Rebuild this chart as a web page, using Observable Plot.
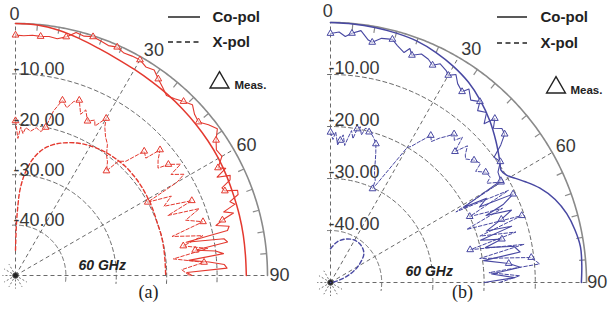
<!DOCTYPE html>
<html><head><meta charset="utf-8">
<script src="https://cdn.jsdelivr.net/npm/d3@7"></script>
<script src="https://cdn.jsdelivr.net/npm/@observablehq/plot@0.6"></script>
<style>
body{margin:0;background:#fff;}
#wrap{display:flex;width:614px;height:316px;}
</style></head><body><div id="wrap"></div>
<script>
// ---------- DATA ----------
const angleTicks = [0, 30, 60, 90];
const radialLevels = [-10, -20, -30, -40];
const radialLabels = ["-10.00", "-20.00", "-30.00", "-40.00"];
const panelTags = ["(a)", "(b)"];
const freqLabel = "60 GHz";
const legendLabels = ["Co-pol", "X-pol", "Meas."];

// Panel (a) – simulated
const coSimAngA = [0,5,10,15,20,25,30,35,40,45,50,55,60,65,70,75,80,85,90];
const coSimA    = [0,-0.1,-0.6,-1.3,-2.0,-2.5,-2.8,-3.0,-3.1,-3.2,-3.3,-3.4,-3.5,-3.7,-3.9,-4.0,-4.1,-4.2,-4.2];
const xSimAngA  = [0,1,2,3,5,8,12,16,20,25,30,35,40,45,50,55,60,65,70,75,80,85,90];
const xSimA     = [-45,-40,-36,-33,-30,-27,-24.5,-23,-22,-21,-20.3,-19.8,-19.5,-19.3,-19.3,-19.4,-19.6,-19.8,-20,-20,-20.1,-20.2,-20.2];
// Panel (a) – measured [angle, dB]
const coMeasA = [[0,-2.3],[2,-2.4],[4,-2.2],[6,-2.3],[8,-2.1],[10,-2.3],[12,-1.6],[14,-0.3],[16,-0.6],[18,-0.2],[20,-0.5],[22,-0.8],[24,-0.4],[26,-0.9],[28,-0.7],[30,-0.6],[32,-1.2],[34,-0.8],[36,-1.8],[38,-2.6],[40,-3.4],[42,-2.8],[44,-2.0],[46,-1.2],[48,-2.2],[50,-2.6],[52,-1.4],[54,-0.5],[56,-2.0],[58,-3.0],[60,-2.7],[62,-4.5],[63,-3.2],[64,-5.5],[65,-3.0],[66,-3.4],[67,-5.5],[68,-5.2],[69,-2.8],[70,-3.0],[71,-5.0],[72,-4.2],[73,-6.8],[74,-5.0],[75,-7.5],[76,-9.0],[77,-6.5],[78,-7.0],[79,-15.5],[80,-8.0],[81,-7.4],[82,-14.0],[83,-10.0],[84,-8.5],[85,-15.5],[86,-11.5],[87,-8.5],[88,-8.0],[89,-16.0],[90,-15.0]];
const coMarkA = [0,6,12,18,24,30,36,44,50,56,62,68,75,82];
const xMeasA = [[0,-19.3],[1,-22.8],[2,-20.5],[3,-21.8],[4,-20.6],[6,-21.2],[8,-20.4],[10,-21],[11.5,-20],[13,-16.5],[15,-14],[17,-15.2],[18.5,-13.6],[20,-13],[22,-15.5],[23,-14.3],[25,-16.2],[27,-15.4],[28,-16.4],[30,-14],[31,-15.6],[33,-17.2],[35,-18.2],[37,-20],[39,-21],[41,-22.5],[42,-19.5],[44,-18.5],[46,-14.5],[48,-15.2],[49,-12],[51,-13.6],[53,-14.6],[54,-12.5],[56,-10.5],[57,-13.2],[59,-11],[60,-13],[61,-20],[63,-15.3],[65,-17.5],[67,-12],[68.5,-17.5],[70,-11.2],[72,-14.5],[74,-11.3],[76,-18],[78,-12],[80,-16.2],[82,-11.5],[84,-18.5],[86,-12.5],[88,-17],[90,-15.5]];
const xMarkA = [0,11.5,15,20,25,30,41,46,49,54,61,67,74,80,86];

// Panel (b) – simulated
const coSimAngB = [0,5,10,15,20,25,30,35,40,45,50,55,57,59,61,63,66,70,74,78,82,86,90];
const coSimB    = [0,-0.1,-0.2,-0.35,-0.6,-1.2,-2.0,-3.0,-4.4,-6.0,-7.8,-9.6,-10.3,-9.9,-8.7,-7.3,-5.3,-3.3,-2.0,-1.2,-0.7,-0.8,-1.0];
const xSimAngB  = [0,10,20,30,40,50,60,65,70,75,80,90];
const xSimB     = [-43.5,-42,-41.1,-40.6,-40.7,-41.5,-43.8,-45.2,-46.8,-48.2,-49.2,-50];
// Panel (b) – measured [angle, dB]
const coMeasB = [[0,-2.1],[2,-1.8],[3.5,-2.6],[5,-1.9],[7,-1.2],[9,-2.8],[10,-3.1],[12,-2.0],[14.5,-1.7],[16,-2.6],[18,-3.5],[19,-2.4],[20,-3.5],[22,-2.6],[24,-3.0],[25.5,-3.7],[27,-2.8],[29,-3.4],[30,-4.0],[31.5,-3.1],[33,-4.4],[35,-5.2],[36,-4.0],[38,-5.5],[40,-4.6],[41,-6.2],[43,-5.3],[44.5,-7.2],[45.5,-5.0],[47,-6.5],[48.5,-5.3],[50,-5.6],[51.5,-7.5],[53,-10.0],[55,-9.5],[57,-11.0],[59.5,-11.4],[61,-20.3],[62,-15.5],[63.5,-17.5],[64.5,-10.5],[66,-13],[67,-17],[68.5,-12],[70,-14.5],[72,-18],[73,-13],[74.5,-19.6],[76,-15.5],[77.5,-19],[79,-13.5],[81,-12.5],[82,-19.8],[84,-15],[85.5,-12.8],[87,-18.5],[88.5,-14],[90,-20]];
const coMarkB = [0,5,10,14.5,20,25.5,30,35,40,45.5,50,55,59.5,64.5,70,76,84];
const xMeasB = [[0,-21.1],[1,-22.5],[2,-21],[3,-23.5],[4,-22.6],[5,-21.5],[6,-23.5],[7,-22],[8,-20.5],[9,-22],[10,-20],[11,-19.5],[12,-21],[13,-19.5],[14.6,-20.1],[16,-20.5],[17,-21],[18.4,-21.9],[19.5,-23.5],[20.5,-25],[21.5,-26.5],[22.5,-27.5],[24,-28.5],[24.5,-30.2],[25.5,-29],[30,-20],[31,-19.5],[32.5,-18],[34.7,-15.6],[36,-16.5],[37.5,-15],[39,-13.8],[40.2,-12.6],[41.5,-13.5],[42.7,-12],[44,-15],[45.5,-12.5],[47,-14],[48,-14.5],[50,-13.4],[52,-12.8],[53,-14.5],[55,-13],[57,-12.8],[58,-14],[59.9,-11.5],[61,-22],[63,-11],[65,-20],[67,-13.5],[69,-21.5],[71,-10.5],[73,-19.5],[75,-12.5],[77,-22],[79,-11.5],[81,-20.5],[83,-10.5],[85,-9],[86.5,-19],[88,-13],[90,-17]];
const xMarkB = [0,4,10,14.6,18.4,24.5,34.7,40.2,44,50,55,59.9,65,71,77,83];

// ---------- HELPERS ----------
const FLOOR = 50; // -50 dB at centre
const rad = d => d * Math.PI / 180;
const pol = (a, db) => ({a, db, x: (db + FLOOR) * Math.sin(rad(a)), y: (db + FLOOR) * Math.cos(rad(a))});
const fromArrays = (angs, vals) => angs.map((a, i) => pol(a, vals[i]));
const fromPairs = pairs => pairs.map(([a, v]) => pol(a, v));
const FONT = "Liberation Sans, Arial, Helvetica, sans-serif";

function panel(cfg) {
  const {cx, cy, rx, ry, color, coSim, xSim, coMeas, xMeas, coMark, xMark, tag, lay} = cfg;
  const pxPerUnit = rx / FLOOR;
  const grid = [];
  for (const L of radialLevels) {
    const u = L + FLOOR;
    const rpx = u * pxPerUnit;
    const e0 = (3 / rpx) * 180 / Math.PI, e1 = (8 / rpx) * 180 / Math.PI;
    const angs = d3.range(-e0, 90 + e1, 1).concat([90 + e1]);
    for (const a of angs) grid.push({...pol(a, L), L});
  }
  const outer = d3.range(0, 90.5, 0.5).map(a => pol(a, 0));
  const ticks = d3.range(5, 90, 5).filter(a => a % 30 !== 0).map(a => ({p1: pol(a, -1.25), p2: pol(a, 0)}));
  const radials = angleTicks.map(a => ({p1: pol(a, -FLOOR), p2: pol(a, 0)}));
  const spokes = d3.range(120, 360, 30).map(a => ({p1: pol(a, -49.2), p2: pol(a, -47.4)}));
  const coM = fromPairs(coMeas), xM = fromPairs(xMeas);
  const coMk = coM.filter(p => coMark.includes(p.a));
  const xMk = xM.filter(p => xMark.includes(p.a));
  const angLab = angleTicks.map((a, i) => ({...pol(a + lay.angShift[i], lay.angR[i] - FLOOR), t: String(a)}));
  const radLab = radialLevels.map((L, i) => ({...pol(0, L), t: radialLabels[i]}));

  const link = (data, o) => Plot.link(data, {x1: d => d.p1.x, y1: d => d.p1.y, x2: d => d.p2.x, y2: d => d.p2.y, ...o});
  const ftext = (s, pos, o) => Plot.text([s], {frameAnchor: "top-left", dx: pos[0], dy: pos[1], text: d => d, lineAnchor: "middle", fill: "#222", fontFamily: FONT, ...o});

  const chart = Plot.plot({
    width: 307, height: 316,
    marginTop: 0, marginRight: 0, marginBottom: 0, marginLeft: 0,
    x: {domain: [0, FLOOR], range: [cx, cx + rx], axis: null},
    y: {domain: [0, FLOOR], range: [cy, cy - ry], axis: null},
    style: {background: "#fff", fontFamily: FONT},
    marks: [
      Plot.line(grid, {x: "x", y: "y", z: "L", stroke: "#6a6a6a", strokeWidth: 1, strokeDasharray: "4,3"}),
      link(radials, {stroke: "#6a6a6a", strokeWidth: 1, strokeDasharray: "4,3"}),
      link(spokes, {stroke: "#777", strokeWidth: 1, strokeDasharray: "2,2"}),
      Plot.line(outer, {x: "x", y: "y", stroke: "#8a8a8a", strokeWidth: 1.6}),
      link(ticks, {stroke: "#8a8a8a", strokeWidth: 1.2}),
      Plot.dot([pol(0, -FLOOR)], {x: "x", y: "y", r: 2.8, fill: "#222", stroke: "#555", strokeWidth: 1}),
      // simulated
      Plot.line(xSim, {x: "x", y: "y", curve: "catmull-rom", stroke: color, strokeWidth: 1.4, strokeDasharray: "4,2.5"}),
      Plot.line(coSim, {x: "x", y: "y", curve: "catmull-rom", stroke: color, strokeWidth: 1.5}),
      // measured
      Plot.line(xM, {x: "x", y: "y", stroke: color, strokeWidth: 1, strokeDasharray: "3.5,2"}),
      Plot.line(coM, {x: "x", y: "y", stroke: color, strokeWidth: 1.1}),
      Plot.dot(xMk, {x: "x", y: "y", symbol: "triangle", r: 2.5, stroke: color, strokeWidth: 1, fill: "#fff", fillOpacity: 0.5}),
      Plot.dot(coMk, {x: "x", y: "y", symbol: "triangle", r: 2.5, stroke: color, strokeWidth: 1, fill: "#fff", fillOpacity: 0.5}),
      // labels
      Plot.text(radLab, {x: "x", y: "y", text: "t", textAnchor: "start", dx: -2, dy: lay.radDy, fontSize: 18, fill: "#383838", fontFamily: FONT}),
      Plot.text(angLab, {x: "x", y: "y", text: "t", textAnchor: "middle", fontSize: 18, fill: "#383838", fontFamily: FONT}),
      ftext(freqLabel, lay.ghz, {textAnchor: "start", fontSize: 14, fontWeight: "bold", fontStyle: "italic"}),
      ftext(tag, lay.cap, {textAnchor: "middle", fontSize: 18, fontFamily: "Liberation Serif, Times New Roman, serif"}),
      ftext(legendLabels[0], [lay.legText, lay.legY[0]], {textAnchor: "start", fontSize: 15, fontWeight: "bold"}),
      ftext(legendLabels[1], [lay.legText, lay.legY[1]], {textAnchor: "start", fontSize: 15, fontWeight: "bold"}),
      ftext(legendLabels[2], lay.meas, {textAnchor: "start", fontSize: 11.5, fontWeight: "bold"}),
      Plot.dot([0], {frameAnchor: "top-left", dx: lay.tri[0], dy: lay.tri[1], symbol: "triangle", r: 7, stroke: "#222", strokeWidth: 1.4, fill: "none"})
    ]
  });
  const svg = d3.select(chart);
  svg.append("line").attr("x1", lay.legLine[0]).attr("x2", lay.legLine[1]).attr("y1", lay.legY[0]).attr("y2", lay.legY[0])
    .attr("stroke", "#222").attr("stroke-width", 1.5);
  svg.append("line").attr("x1", lay.legLine[0]).attr("x2", lay.legLine[1]).attr("y1", lay.legY[1]).attr("y2", lay.legY[1])
    .attr("stroke", "#222").attr("stroke-width", 1.5).attr("stroke-dasharray", "5,3.5");
  return chart;
}

const wrap = document.getElementById("wrap");
wrap.appendChild(panel({
  cx: 15, cy: 275, rx: 252, ry: 252, color: "#e4392f",
  coSim: fromArrays(coSimAngA, coSimA), xSim: fromArrays(xSimAngA, xSimA),
  coMeas: coMeasA, xMeas: xMeasA, coMark: coMarkA, xMark: xMarkA, tag: panelTags[0],
  lay: {angShift: [-0.2, 1.6, 0.6, 0], angR: [51.8, 52.4, 52.6, 52.4], radDy: -4.5,
        ghz: [78, 265], cap: [148, 292], legText: 212, legY: [17, 42], legLine: [168, 200],
        meas: [234, 85], tri: [219, 82]}
}));
wrap.appendChild(panel({
  cx: 23, cy: 282, rx: 256, ry: 260, color: "#4848a2",
  coSim: fromArrays(coSimAngB, coSimB), xSim: fromArrays(xSimAngB, xSimB),
  coMeas: coMeasB, xMeas: xMeasB, coMark: coMarkB, xMark: xMarkB, tag: panelTags[1],
  lay: {angShift: [-0.6, 1.5, 0.3, 0], angR: [52.1, 52.6, 52.9, 52.1], radDy: -6,
        ghz: [98, 271], cap: [155, 292], legText: 233, legY: [17, 43], legLine: [190, 220],
        meas: [263, 90], tri: [248.5, 87]}
}));
</script></body></html>
